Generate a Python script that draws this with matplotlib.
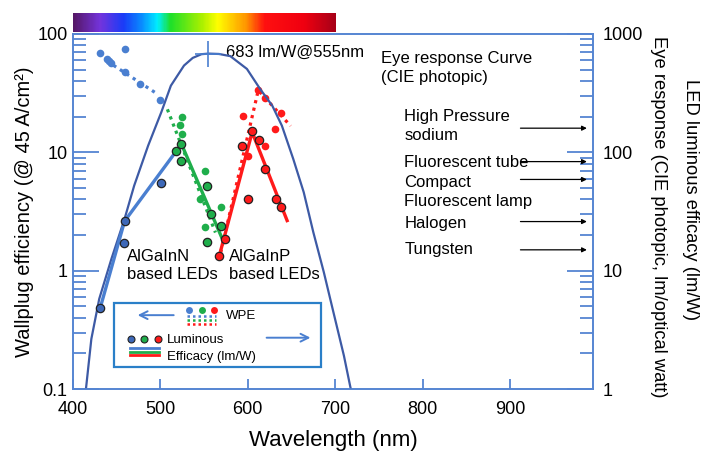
import numpy as np
import matplotlib
matplotlib.use("Agg")
import matplotlib.pyplot as plt
from matplotlib.colors import LinearSegmentedColormap
from matplotlib.patches import Rectangle
from matplotlib.ticker import FuncFormatter, LogLocator

plt.rcParams['font.family'] = ['Liberation Sans', 'DejaVu Sans']

# ====== DATA ======
# eye response curve (CIE photopic), lm per optical watt
eye_nm = [412, 415, 421, 430, 444, 459, 470, 486, 501, 512, 527, 537, 547, 555, 567,
          580, 599, 614, 628, 639, 652, 664, 675, 687, 698, 710, 717, 720]
eye_lmw = [0.8, 1.03, 2.65, 5.77, 12.6, 27.4, 52.3, 114, 218, 366, 541, 628, 675, 683,
           678, 650, 507, 344, 248, 168, 88, 46, 21.1, 9.7, 4.45, 1.91, 1.07, 0.85]
peak_nm, peak_lmw = 555, 683

# wallplug efficiency (%), left axis
wpe_blue_nm = [431, 439, 441, 444, 460, 460, 477, 500]
wpe_blue = [68.6, 61.4, 59.4, 57.0, 74.6, 47.9, 37.7, 27.8]
wpe_blue_fit_nm = [439, 494]
wpe_blue_fit = [59, 32]

wpe_green_nm = [525, 523, 525, 551, 545, 569, 551]
wpe_green = [19.7, 16.9, 14.2, 6.95, 4.0, 3.47, 2.35]
wpe_green_fit_nm = [508, 563]
wpe_green_fit = [23.1, 2.1]

wpe_red_nm = [612, 620, 638, 631, 594, 600, 620]
wpe_red = [33.5, 28.7, 21.3, 15.9, 20.1, 9.3, 11.3]
wpe_red_fit_nm = [569, 612, 649]
wpe_red_fit = [1.42, 33.5, 16.7]

# luminous efficacy (lm/W), right axis
lum_blue_nm = [431, 458, 459, 501]
lum_blue = [4.8, 17.1, 26.2, 54.8]
lum_blue_fit_nm = [431, 459, 518]
lum_blue_fit = [4.8, 26.2, 102]

lum_green_nm = [518, 524, 524, 553, 558, 569, 553]
lum_green = [102, 118, 85, 51.7, 30.2, 23.7, 17.6]
lum_green_fit_nm = [524, 570]
lum_green_fit = [118, 19.2]

lum_red_nm = [605, 593, 613, 620, 600, 632, 638, 574, 567]
lum_red = [152, 114, 126, 72, 40.4, 40.4, 34.4, 18.5, 13.4]
lum_red_fit_nm = [567, 605, 645]
lum_red_fit = [13, 148, 26.5]

# conventional lamps (lm/W)
lamp_names = ["High Pressure\nsodium", "Fluorescent tube", "Compact\nFluorescent lamp",
              "Halogen", "Tungsten"]
lamp_lmw = [160, 83.5, 59, 26, 15]
# ==================

SPINE = '#5585d2'
BLUE = '#4a7fd0'
BLUE_D = '#3d68b8'
GREEN = '#1fae4b'
RED = '#ff1a1a'
EYE = '#3d5aa5'

fig = plt.figure(figsize=(7.01, 4.54), dpi=100)
ax = fig.add_axes([73/701, 1-389/454, 520/701, 355/454])
ax2 = ax.twinx()

# ---- spectrum bar ----
spec = LinearSegmentedColormap.from_list('spec', [
    (0.00, '#561868'), (0.10, '#7434dc'), (0.19, '#1a3cf8'), (0.26, '#0a8cff'),
    (0.32, '#00eeff'), (0.37, '#1ee02a'), (0.49, '#aaf000'), (0.55, '#ffff00'),
    (0.66, '#ff9400'), (0.73, '#ff1010'), (0.88, '#f00010'), (1.00, '#a80018')])
axbar = fig.add_axes([73/701, 1-32/454, 520/701, 19/454])
axbar.imshow(np.linspace(0, 1, 300)[None, :], cmap=spec, aspect='auto',
             extent=(400, 700, 0, 1))
axbar.set_xlim(400, 995)
axbar.axis('off')

# ---- eye response curve ----
ax2.plot(eye_nm, eye_lmw, color=EYE, lw=1.6, zorder=2)
ax2.plot([peak_nm], [peak_lmw], marker='+', ms=19, mew=1.2, color=BLUE, zorder=3)

# ---- WPE (left axis) ----
dot = (0, (1, 1.4))
ax.plot(wpe_blue_fit_nm, wpe_blue_fit, ls=dot, lw=2.3, color=BLUE, zorder=4)
ax.plot(wpe_green_fit_nm, wpe_green_fit, ls=dot, lw=2.3, color=GREEN, zorder=4)
ax.plot(wpe_red_fit_nm, wpe_red_fit, ls=dot, lw=2.3, color=RED, zorder=4)
ax.plot(wpe_blue_nm, wpe_blue, 'o', ms=5.5, color=BLUE, mec='none', zorder=5)
ax.plot(wpe_green_nm, wpe_green, 'o', ms=5.5, color=GREEN, mec='none', zorder=5)
ax.plot(wpe_red_nm, wpe_red, 'o', ms=5.5, color=RED, mec='none', zorder=5)

# ---- luminous efficacy (right axis) ----
ax2.plot(lum_blue_fit_nm, lum_blue_fit, '-', lw=2.4, color=BLUE, zorder=4)
ax2.plot(lum_green_fit_nm, lum_green_fit, '-', lw=2.4, color=GREEN, zorder=4)
ax2.plot(lum_red_fit_nm, lum_red_fit, '-', lw=2.4, color=RED, zorder=4)
ax2.plot(lum_blue_nm, lum_blue, 'o', ms=6, color=BLUE_D, mec='#222222', mew=0.9, zorder=5)
ax2.plot(lum_green_nm, lum_green, 'o', ms=6, color=GREEN, mec='#222222', mew=0.9, zorder=5)
ax2.plot(lum_red_nm, lum_red, 'o', ms=6, color=RED, mec='#222222', mew=0.9, zorder=5)

# ---- lamp arrows ----
for v in lamp_lmw:
    ax2.annotate('', xy=(988, v), xytext=(912, v),
                 arrowprops=dict(arrowstyle='-|>', color='black', lw=0.9,
                                 mutation_scale=7, shrinkA=0, shrinkB=0))
lamp_y = [0.740, 0.6386, 0.556, 0.4668, 0.3935]
for name, yy in zip(lamp_names, lamp_y):
    ax.text(0.637, yy, name, transform=ax.transAxes, fontsize=12, va='center',
            ha='left', linespacing=1.35)

# ---- axes ----
ax.set_xlim(400, 995)
ax.set_yscale('log')
ax.set_ylim(0.1, 100)
ax2.set_yscale('log')
ax2.set_ylim(1, 1000)
ax.set_xticks([400, 500, 600, 700, 800, 900])

fmt = FuncFormatter(lambda v, _: f'{v:g}')
for a in (ax, ax2):
    a.yaxis.set_major_locator(LogLocator(base=10))
    a.yaxis.set_minor_locator(LogLocator(base=10, subs=np.arange(2, 10)))
    a.yaxis.set_major_formatter(fmt)
    a.yaxis.set_minor_formatter(FuncFormatter(lambda v, _: ''))
    for s in a.spines.values():
        s.set_color(SPINE)
        s.set_linewidth(1.2)

ax.tick_params(axis='y', which='major', direction='in', length=19, width=1.3,
               color=SPINE, labelsize=13, pad=4)
ax.tick_params(axis='y', which='minor', direction='in', length=9.5, width=1.3,
               color=SPINE)
ax2.tick_params(axis='y', which='major', direction='in', length=19, width=1.3,
                color=SPINE, labelsize=13, pad=7)
ax2.tick_params(axis='y', which='minor', direction='in', length=9.5, width=1.3,
                color=SPINE)
ax.tick_params(axis='x', direction='in', length=7, width=1.3, color=SPINE,
               labelsize=13, pad=9)

ax.set_xlabel('Wavelength (nm)', fontsize=16, labelpad=8)
ax.set_ylabel('Wallplug efficiency (@ 45 A/cm²)', fontsize=14.5, labelpad=2)
fig.text(658/701, 1-217/454, 'Eye response (CIE photopic, lm/optical watt)',
         rotation=-90, fontsize=13.2, ha='center', va='center')
fig.text(690/701, 1-200/454, 'LED luminous efficacy (lm/W)',
         rotation=-90, fontsize=13.2, ha='center', va='center')

# ---- annotations ----
ax.text(0.294, 0.949, '683 lm/W@555nm', transform=ax.transAxes, fontsize=12,
        va='center', ha='left')
ax.text(0.592, 0.905, 'Eye response Curve\n(CIE photopic)', transform=ax.transAxes,
        fontsize=12, va='center', ha='left', linespacing=1.35)
ax.text(0.103, 0.3465, 'AlGaInN\nbased LEDs', transform=ax.transAxes, fontsize=12,
        va='center', ha='left', linespacing=1.25)
ax.text(0.300, 0.3465, 'AlGaInP\nbased LEDs', transform=ax.transAxes, fontsize=12,
        va='center', ha='left', linespacing=1.25)

# ---- hand-made legend ----
T = ax.transAxes
ax.add_patch(Rectangle((0.079, 0.063), 0.397, 0.18, transform=T, fill=False,
                       ec='#2a7fc8', lw=1.6, zorder=6))
ax.annotate('', xy=(0.119, 0.208), xytext=(0.199, 0.208), xycoords=T,
            arrowprops=dict(arrowstyle='->', color=BLUE, lw=1.4, mutation_scale=14))
ax.annotate('', xy=(0.462, 0.1445), xytext=(0.367, 0.1445), xycoords=T,
            arrowprops=dict(arrowstyle='->', color=BLUE, lw=1.4, mutation_scale=14))
for xx, c in zip([0.223, 0.249, 0.272], [BLUE, GREEN, RED]):
    ax.plot([xx], [0.2225], 'o', ms=5, color=c, mec='none', transform=T, zorder=7)
for yy, c in zip([0.2056, 0.1944, 0.1831], [BLUE, GREEN, RED]):
    ax.plot([0.220, 0.275], [yy, yy], ls=(0, (1, 1.2)), lw=1.8, color=c,
            transform=T, zorder=7)
for xx, c in zip([0.111, 0.137, 0.163], [BLUE_D, GREEN, RED]):
    ax.plot([xx], [0.1408], 'o', ms=5, color=c, mec='#222222', mew=0.8,
            transform=T, zorder=7)
for yy, c in zip([0.1146, 0.1051, 0.0958], [BLUE, GREEN, RED]):
    ax.plot([0.1096, 0.166], [yy, yy], '-', lw=2, color=c, transform=T, zorder=7)
ax.text(0.294, 0.2056, 'WPE', transform=T, fontsize=9.5, va='center')
ax.text(0.180, 0.138, 'Luminous', transform=T, fontsize=9.5, va='center')
ax.text(0.180, 0.091, 'Efficacy (lm/W)', transform=T, fontsize=9.5, va='center')

fig.savefig('out.png', dpi=100)
